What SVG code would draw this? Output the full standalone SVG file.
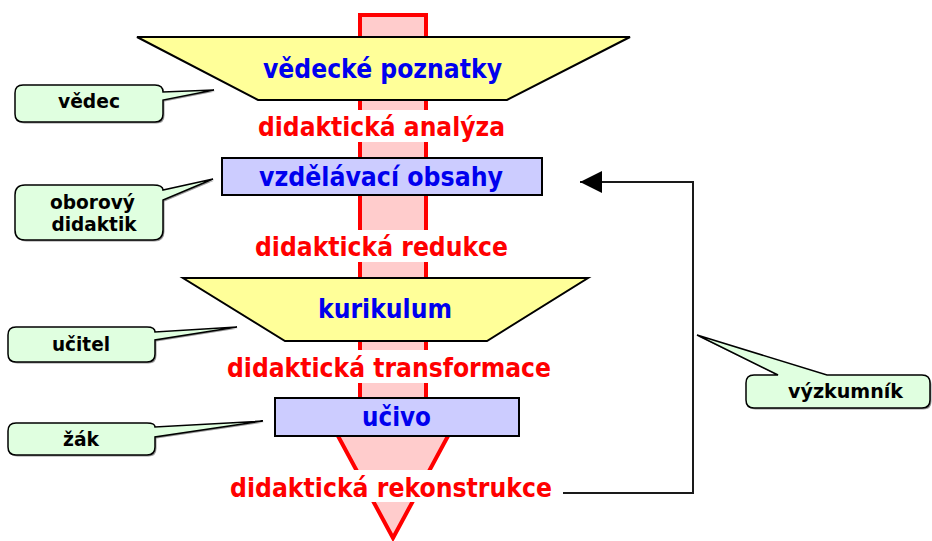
<svg xmlns="http://www.w3.org/2000/svg" width="932" height="541" viewBox="0 0 932 541">
  <style>
    .shaft { fill: #ffcccc; stroke: #ff0000; stroke-width: 4; stroke-linejoin: miter; }
    .trap { fill: #ffff99; stroke: #000000; stroke-width: 2; stroke-linejoin: miter; }
    .box { fill: #ccccff; stroke: #000000; stroke-width: 2; }
    .bg { fill: #ffffff; }
    .stage { font-family: "DejaVu Sans", "Liberation Sans", sans-serif; font-weight: bold; font-size: 26px; fill: #0000ee; text-anchor: middle; }
    .step { font-family: "DejaVu Sans", "Liberation Sans", sans-serif; font-weight: bold; font-size: 26px; fill: #ff0000; text-anchor: middle; }
    .call { fill: #e0ffe0; stroke: #000000; stroke-width: 1.5; stroke-linejoin: miter; }
    .callshadow { fill: #555555; stroke: none; opacity: 0.6; }
    .role { font-family: "DejaVu Sans", "Liberation Sans", sans-serif; font-weight: bold; font-size: 19.5px; fill: #000000; text-anchor: middle; }
    .conn { fill: none; stroke: #1a1a1a; stroke-width: 2; }
  </style>
  <defs>
    <marker id="arrowhead" markerUnits="userSpaceOnUse" markerWidth="24" markerHeight="24" refX="22" refY="11" orient="auto">
      <path d="M0,0 L22,11 L0,22 Z" fill="#000000"/>
    </marker>
    <!-- rounded speech bubbles, each with a wedge pointing at its stage -->
    <path id="c-vedec" d="M23,85 H155 Q163,85 163,92 L214,90 L163,100 V114 Q163,122 155,122 H23 Q15,122 15,114 V93 Q15,85 23,85 Z"/>
    <path id="c-oborovy" d="M25,185 H153 Q163,185 163,190 L213,179 L163,200 V230 Q163,240 153,240 H25 Q15,240 15,230 V195 Q15,185 25,185 Z"/>
    <path id="c-ucitel" d="M16,327 H147 Q155,327 155,332 L237,327 L155,340 V354 Q155,362 147,362 H16 Q8,362 8,354 V335 Q8,327 16,327 Z"/>
    <path id="c-zak" d="M16,423 H147 Q155,423 155,427 L263,421 L155,437 V447 Q155,455 147,455 H16 Q8,455 8,447 V431 Q8,423 16,423 Z"/>
    <path id="c-vyzkumnik" d="M754,375 H778 L697,335 L827,375 H922 Q930,375 930,383 V400 Q930,408 922,408 H754 Q746,408 746,400 V383 Q746,375 754,375 Z"/>
  </defs>

  <!-- central red arrow running through all stages -->
  <g id="main-arrow">
    <path class="shaft" d="M360,15 H426 V410 H462 L393,538 L324,410 H360 Z"/>
  </g>

  <g id="vedecke-poznatky">
    <polygon class="trap" points="137,37 630,37 507,100 258,100"/>
    <text class="stage" x="382.5" y="78" textLength="239" lengthAdjust="spacingAndGlyphs">vědecké poznatky</text>
  </g>

  <g id="vzdelavaci-obsahy">
    <rect class="box" x="222" y="158" width="320" height="37"/>
    <text class="stage" x="381" y="186" textLength="244" lengthAdjust="spacingAndGlyphs">vzdělávací obsahy</text>
  </g>

  <g id="kurikulum">
    <polygon class="trap" points="183,278 588,278 487,341 285,341"/>
    <text class="stage" x="385" y="318" textLength="134" lengthAdjust="spacingAndGlyphs">kurikulum</text>
  </g>

  <g id="ucivo">
    <rect class="box" x="275" y="398" width="244" height="38"/>
    <text class="stage" x="396.5" y="426" textLength="69" lengthAdjust="spacingAndGlyphs">učivo</text>
  </g>

  <!-- transition steps between stages, on white bands across the arrow -->
  <g id="didakticka-analyza">
    <rect class="bg" x="254" y="110" width="255" height="32"/>
    <text class="step" x="381.5" y="136" textLength="247" lengthAdjust="spacingAndGlyphs">didaktická analýza</text>
  </g>
  <g id="didakticka-redukce">
    <rect class="bg" x="251" y="230" width="261" height="32"/>
    <text class="step" x="381.5" y="256" textLength="253" lengthAdjust="spacingAndGlyphs">didaktická redukce</text>
  </g>
  <g id="didakticka-transformace">
    <rect class="bg" x="223" y="350" width="332" height="33"/>
    <text class="step" x="389" y="377" textLength="324" lengthAdjust="spacingAndGlyphs">didaktická transformace</text>
  </g>
  <g id="didakticka-rekonstrukce">
    <rect class="bg" x="226" y="470" width="330" height="32"/>
    <text class="step" x="391" y="497" textLength="322" lengthAdjust="spacingAndGlyphs">didaktická rekonstrukce</text>
  </g>

  <!-- role callouts -->
  <g id="vedec">
    <use href="#c-vedec" class="callshadow" transform="translate(1.5,1.5)"/>
    <use href="#c-vedec" class="call"/>
    <text class="role" x="89" y="108" textLength="62" lengthAdjust="spacingAndGlyphs">vědec</text>
  </g>
  <g id="oborovy-didaktik">
    <use href="#c-oborovy" class="callshadow" transform="translate(1.5,1.5)"/>
    <use href="#c-oborovy" class="call"/>
    <text class="role" x="92.5" y="209" textLength="85" lengthAdjust="spacingAndGlyphs">oborový</text>
    <text class="role" x="94" y="231" textLength="85" lengthAdjust="spacingAndGlyphs">didaktik</text>
  </g>
  <g id="ucitel">
    <use href="#c-ucitel" class="callshadow" transform="translate(1.5,1.5)"/>
    <use href="#c-ucitel" class="call"/>
    <text class="role" x="81" y="351" textLength="58" lengthAdjust="spacingAndGlyphs">učitel</text>
  </g>
  <g id="zak">
    <use href="#c-zak" class="callshadow" transform="translate(1.5,1.5)"/>
    <use href="#c-zak" class="call"/>
    <text class="role" x="81" y="446" textLength="36" lengthAdjust="spacingAndGlyphs">žák</text>
  </g>
  <g id="vyzkumnik">
    <use href="#c-vyzkumnik" class="callshadow" transform="translate(1.5,1.5)"/>
    <use href="#c-vyzkumnik" class="call"/>
    <text class="role" x="845.5" y="398" textLength="115" lengthAdjust="spacingAndGlyphs">výzkumník</text>
  </g>

  <!-- feedback loop from reconstruction back to educational content -->
  <g id="connectors">
    <path class="conn" d="M563,493 H693 V182 H580" marker-end="url(#arrowhead)"/>
  </g>
</svg>
